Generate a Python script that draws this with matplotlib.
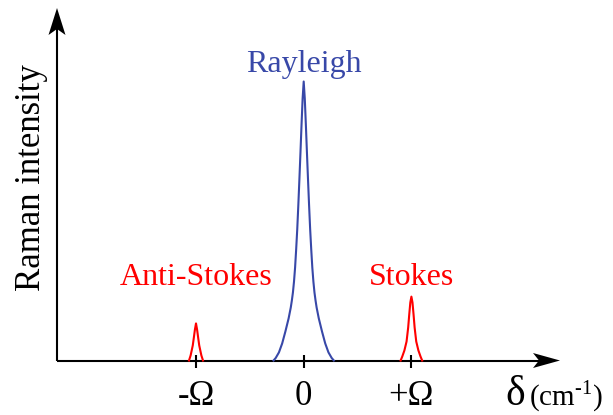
import numpy as np
import matplotlib
matplotlib.use('Agg')
from matplotlib import pyplot as plt
from matplotlib.patches import Polygon

plt.rcParams['font.family'] = 'Liberation Serif'
plt.rcParams['mathtext.fontset'] = 'custom'
plt.rcParams['mathtext.rm'] = 'Liberation Serif'

# peak positions (units of Omega) and one half of each line profile
centers = [-1.0, 0.0, 1.0]
names = ['Anti-Stokes', 'Rayleigh', 'Stokes']
tick_labels = ['-Ω', '0', '+Ω']

antistokes_off = [0, .01, .02, .03, .04, .05, .065]
antistokes_int = [.133, .111, .082, .054, .036, .018, 0]

rayleigh_off = [0, .01, .02, .03, .04, .05, .06, .07, .08, .09, .10, .11, .12, .14, .17, .20, .23, .26, .28]
rayleigh_int = [1, .939, .846, .746, .649, .556, .470, .398, .333, .283, .244, .215, .190, .151, .104, .061, .029, .009, 0]

stokes_off = [0, .01, .02, .03, .045, .065, .085, .10]
stokes_int = [.229, .208, .165, .118, .068, .036, .014, 0]

blue = '#3848a8'
red = '#ff0000'

fig = plt.figure(figsize=(6.13, 4.15), dpi=100)
ax = fig.add_axes([0, 0, 1, 1])
# pixel scale: 107.7 px per Omega, 279 px per unit intensity
sx, sy = 107.7, 279.0
ax.set_xlim(-303.7 / sx, (613 - 303.7) / sx)
ax.set_ylim(-(415 - 360.5) / sy, 360.5 / sy)
ax.axis('off')


def mirror(c, off, val):
    off = np.array(off)
    val = np.array(val)
    x = np.concatenate([c - off[::-1], c + off[1:]])
    y = np.concatenate([val[::-1], val[1:]])
    return x, y


profiles = [(antistokes_off, antistokes_int, red),
            (rayleigh_off, rayleigh_int, blue),
            (stokes_off, stokes_int, red)]
for c, (off, val, col) in zip(centers, profiles):
    x, y = mirror(c, off, val)
    ax.plot(x, y, color=col, lw=1.5, solid_joinstyle='round', zorder=3)

# axes with notched arrow heads
x0 = (57 - 303.7) / sx
ytip = (360.5 - 8) / sy
xtip = (560 - 303.7) / sx
lw_ax = 1.5
ax.plot([x0, x0], [0, ytip - 20 / sy], color='k', lw=lw_ax, solid_capstyle='butt', zorder=2)
ax.plot([x0, xtip - 20 / sx], [0, 0], color='k', lw=lw_ax, solid_capstyle='butt', zorder=2)
ax.add_patch(Polygon([[x0, ytip], [x0 - 8.5 / sx, ytip - 27 / sy], [x0, ytip - 21 / sy],
                      [x0 + 8.5 / sx, ytip - 27 / sy]], closed=True, color='k', lw=0))
ax.add_patch(Polygon([[xtip, 0], [xtip - 27 / sx, 7.5 / sy], [xtip - 21 / sx, 0],
                      [xtip - 27 / sx, -7.5 / sy]], closed=True, color='k', lw=0))

# ticks and tick labels
ax.vlines(centers, -7 / sy, 6 / sy, color='k', lw=1.5, zorder=4)
for c, lab in zip(centers, tick_labels):
    ax.text(c, -0.16, lab, ha='center', va='baseline', fontsize=25)

# peak names
ax.text(-1.0, 0.27, names[0], color=red, ha='center', va='baseline', fontsize=23)
ax.text(0.0, 1.035, names[1], color=blue, ha='center', va='baseline', fontsize=23)
ax.text(1.0, 0.27, names[2], color=red, ha='center', va='baseline', fontsize=23)

ax.text((31 - 303.7) / sx, 0.654, 'Raman intensity', rotation=90, ha='center', va='center', fontsize=25)
ax.text((505 - 303.7) / sx, -0.158, 'δ', ha='left', va='baseline', fontsize=30)
ax.text((529 - 303.7) / sx, -0.158, r'(cm$^{\text{-}1}$)', ha='left', va='baseline', fontsize=21)

fig.savefig('out.png', dpi=100)
